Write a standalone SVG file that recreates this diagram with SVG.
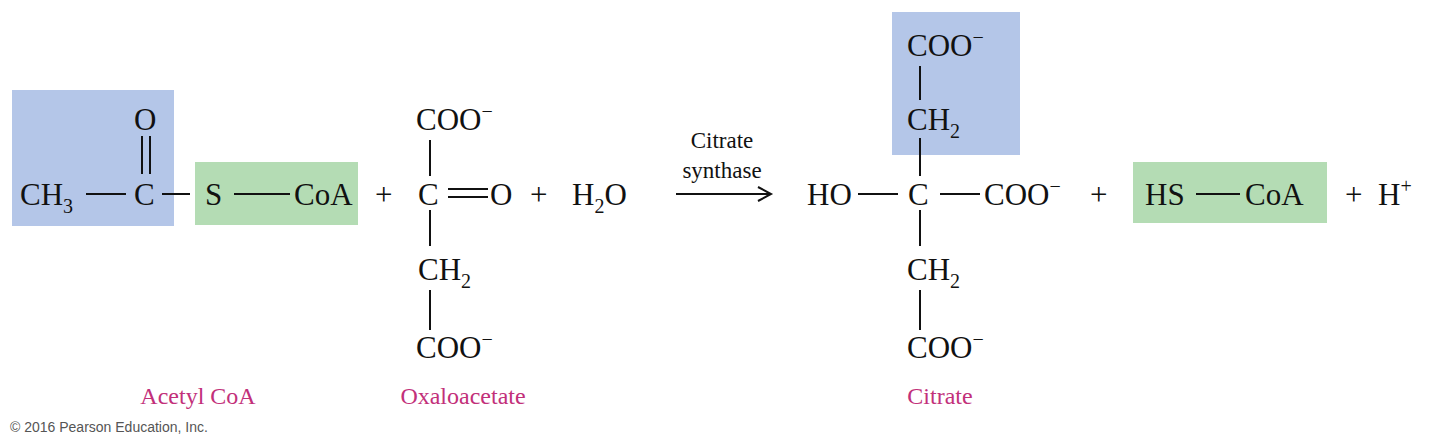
<svg xmlns="http://www.w3.org/2000/svg" width="1440" height="443" viewBox="0 0 1440 443">
<style>
.t{font-family:"Liberation Serif",serif;font-size:31px;fill:#111}
.s{font-size:20px}
.l{font-family:"Liberation Serif",serif;font-size:24px;fill:#c2307a;text-anchor:middle}
.b{stroke:#111;stroke-width:2;fill:none}
.blue{fill:#b4c6e8}.green{fill:#b4dcb4}
</style>
<rect width="1440" height="443" fill="#fff"/>
<g id="acetylcoa">
<rect class="blue" x="12" y="90" width="162" height="136"/>
<rect class="green" x="195" y="162" width="163" height="63"/>
<text class="t" x="20" y="205">CH<tspan class="s" dy="8">3</tspan></text>
<path class="b" d="M86 194H126M142 136V174M150 136V174M162 194H190M234 194H290"/>
<text class="t" x="134" y="130">O</text>
<text class="t" x="134" y="205">C</text>
<text class="t" x="205" y="205">S</text>
<text class="t" x="294" y="205">CoA</text>
<text class="l" x="198" y="404">Acetyl CoA</text>
</g>
<g id="oxaloacetate">
<text class="t" x="375" y="205">+</text>
<text class="t" x="416" y="130">COO<tspan class="s" dy="-12">−</tspan></text>
<path class="b" d="M430 140V176M430 210V246M430 290V330M448 189H488M448 197H488"/>
<text class="t" x="418" y="205">C</text>
<text class="t" x="490" y="205">O</text>
<text class="t" x="530" y="205">+</text>
<text class="t" x="572" y="205">H<tspan class="s" dy="8">2</tspan><tspan dy="-8">O</tspan></text>
<text class="t" x="418" y="280">CH<tspan class="s" dy="8">2</tspan></text>
<text class="t" x="416" y="358">COO<tspan class="s" dy="-12">−</tspan></text>
<text class="l" x="463" y="404">Oxaloacetate</text>
</g>
<g id="connectors">
<path class="b" d="M676 194H770M758 187L771 194L758 201"/>
<text class="t" x="722" y="148" text-anchor="middle" style="font-size:23px">Citrate</text>
<text class="t" x="722" y="178" text-anchor="middle" style="font-size:23px">synthase</text>
</g>
<g id="citrate">
<rect class="blue" x="892" y="12" width="128" height="143"/>
<text class="t" x="907" y="56">COO<tspan class="s" dy="-12">−</tspan></text>
<path class="b" d="M920 66V100M920 138V176M920 210V246M920 290V330M858 194H898M940 194H980"/>
<text class="t" x="907" y="130">CH<tspan class="s" dy="8">2</tspan></text>
<text class="t" x="807" y="205">HO</text>
<text class="t" x="908" y="205">C</text>
<text class="t" x="984" y="205">COO<tspan class="s" dy="-12">−</tspan></text>
<text class="t" x="907" y="280">CH<tspan class="s" dy="8">2</tspan></text>
<text class="t" x="907" y="358">COO<tspan class="s" dy="-12">−</tspan></text>
<text class="t" x="1090" y="205">+</text>
<text class="l" x="940" y="404">Citrate</text>
</g>
<g id="hscoa">
<rect class="green" x="1133" y="162" width="194" height="61"/>
<text class="t" x="1145" y="205">HS</text>
<path class="b" d="M1196 194H1240"/>
<text class="t" x="1245" y="205">CoA</text>
</g>
<g id="hplus">
<text class="t" x="1345" y="205">+</text>
<text class="t" x="1378" y="205">H<tspan class="s" dy="-12">+</tspan></text>
</g>
<text x="10" y="432" style="font-family:'Liberation Sans',sans-serif;font-size:14px;fill:#555">© 2016 Pearson Education, Inc.</text>
</svg>
